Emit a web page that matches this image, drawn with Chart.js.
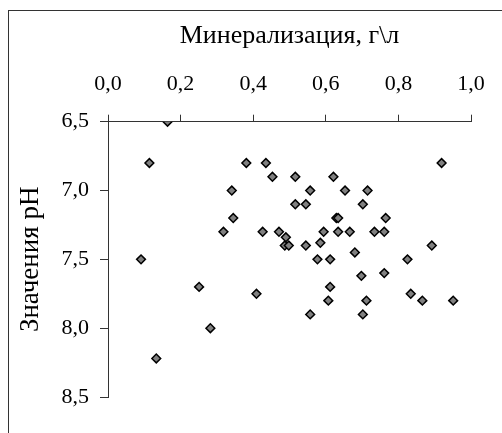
<!DOCTYPE html>
<html>
<head>
<meta charset="utf-8">
<script src="https://cdn.jsdelivr.net/npm/chart.js@4/dist/chart.umd.min.js"></script>
<style>
  html, body { margin: 0; padding: 0; background: #fff; }
  #wrap { width: 502px; height: 433px; position: relative; }
</style>
</head>
<body>
<div id="wrap"><canvas id="c" width="502" height="433"></canvas></div>
<script>
// Data
const xValues = [0.164, 0.114, 0.381, 0.435, 0.919, 0.453, 0.516, 0.621, 0.341, 0.557,
  0.653, 0.715, 0.516, 0.545, 0.702, 0.345, 0.629, 0.634, 0.765, 0.318,
  0.426, 0.471, 0.594, 0.634, 0.666, 0.734, 0.761, 0.490, 0.487, 0.498,
  0.545, 0.585, 0.892, 0.091, 0.577, 0.612, 0.825, 0.680, 0.698, 0.761,
  0.612, 0.251, 0.409, 0.834, 0.607, 0.712, 0.866, 0.951, 0.557, 0.702,
  0.282, 0.133];
const yValues = [6.50, 6.80, 6.80, 6.80, 6.80, 6.90, 6.90, 6.90, 7.00, 7.00,
  7.00, 7.00, 7.10, 7.10, 7.10, 7.20, 7.20, 7.20, 7.20, 7.30,
  7.30, 7.30, 7.30, 7.30, 7.30, 7.30, 7.30, 7.34, 7.40, 7.40,
  7.40, 7.38, 7.40, 7.50, 7.50, 7.50, 7.50, 7.45, 7.62, 7.60,
  7.70, 7.70, 7.75, 7.75, 7.80, 7.80, 7.80, 7.80, 7.90, 7.90,
  8.00, 8.22];
const xTickValues = [0.0, 0.2, 0.4, 0.6, 0.8, 1.0];
const xTickLabels = ['0,0', '0,2', '0,4', '0,6', '0,8', '1,0'];
const yTickValues = [6.5, 7.0, 7.5, 8.0, 8.5];
const yTickLabels = ['6,5', '7,0', '7,5', '8,0', '8,5'];
const xTitle = 'Минерализация, г\\л';
const yTitle = 'Значения pH';

const points = xValues.map((x, i) => ({ x: x, y: yValues[i] }));
const FONT = '"Liberation Serif", "Times New Roman", serif';

function labelFor(values, labels) {
  return function (v) {
    for (let i = 0; i < values.length; i++) {
      if (Math.abs(values[i] - v) < 1e-6) return labels[i];
    }
    return '';
  };
}

const frame = {
  id: 'frame',
  beforeDraw(chart) {
    const ctx = chart.ctx;
    ctx.save();
    ctx.fillStyle = '#fff';
    ctx.fillRect(0, 0, chart.width, chart.height);
    ctx.strokeStyle = '#333';
    ctx.lineWidth = 1;
    ctx.strokeRect(8.5, 10.5, 700, 700);
    ctx.restore();
  }
};

function build() {
  new Chart(document.getElementById('c'), {
    type: 'scatter',
    data: {
      datasets: [{
        data: points,
        pointStyle: 'rectRot',
        pointRadius: 4.4,
        pointHoverRadius: 4.4,
        backgroundColor: '#808080',
        borderColor: '#000',
        borderWidth: 1.5
      }]
    },
    options: {
      responsive: false,
      animation: false,
      events: [],
      layout: { padding: { left: 8, top: 11, right: 31, bottom: 36 } },
      plugins: { legend: { display: false }, tooltip: { enabled: false } },
      scales: {
        x: {
          type: 'linear',
          position: 'top',
          min: 0, max: 1,
          afterBuildTicks(s) { s.ticks = xTickValues.map(v => ({ value: v })); },
          afterFit(s) { s.height = 110.7; },
          grid: { display: true, drawOnChartArea: false, drawTicks: true, tickLength: 7, color: '#333', lineWidth: 1 },
          border: { display: true, color: '#333', width: 1 },
          ticks: { callback: labelFor(xTickValues, xTickLabels), padding: 17, color: '#000', font: { family: FONT, size: 22 }, maxRotation: 0, autoSkip: false },
          title: { display: true, text: xTitle, color: '#000', font: { family: FONT, size: 26 }, padding: { top: 10, bottom: 0 } }
        },
        y: {
          type: 'linear',
          position: 'left',
          reverse: true,
          min: 6.5, max: 8.5,
          afterBuildTicks(s) { s.ticks = yTickValues.map(v => ({ value: v })); },
          afterFit(s) { s.width = 100; },
          grid: { display: true, drawOnChartArea: false, drawTicks: true, tickLength: 8, color: '#333', lineWidth: 1 },
          border: { display: true, color: '#333', width: 1 },
          ticks: { callback: labelFor(yTickValues, yTickLabels), padding: 11, color: '#000', font: { family: FONT, size: 22 }, autoSkip: false },
          title: { display: true, text: yTitle, color: '#000', font: { family: FONT, size: 27 }, padding: { top: 7, bottom: 0 } }
        }
      }
    },
    plugins: [frame]
  });
}

const loads = [
  document.fonts.load('22px "Liberation Serif"', 'Минерализация 0,1'),
  document.fonts.load('26px "Liberation Serif"', 'Значения pH')
];
Promise.all(loads).then(build, build);
</script>
</body>
</html>
